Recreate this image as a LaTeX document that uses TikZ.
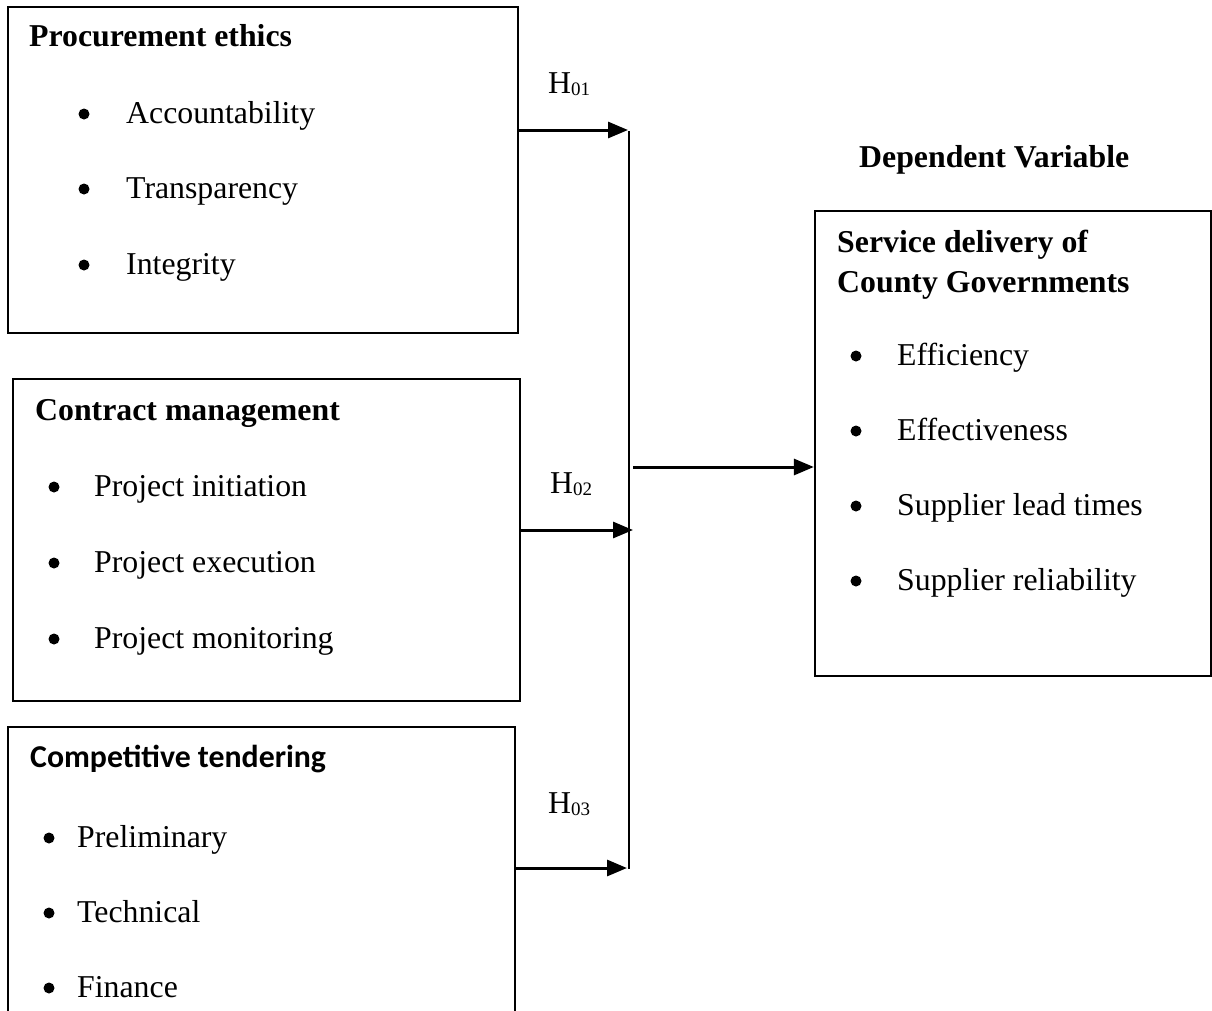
\documentclass[tikz,border=0pt]{standalone}
\usepackage{fontspec}
\setmainfont{Liberation Serif}
\newfontfamily\carlito{Carlito}
\usetikzlibrary{arrows.meta}
\newcommand{\bodysize}{\fontsize{31.8}{38}\selectfont}
\newcommand{\hsub}[1]{H\raisebox{-2pt}{\fontsize{19}{19}\selectfont #1}}
\begin{document}
\begin{tikzpicture}[x=1pt,y=-1pt,
  box/.style={draw, line width=2.3pt, inner sep=0pt},
  txt/.style={anchor=base west, inner sep=0pt, font=\bodysize},
  btxt/.style={anchor=base west, inner sep=0pt, font=\bodysize\bfseries},
  bul/.style={circle, fill, inner sep=0pt, minimum size=11pt},
  conn/.style={line width=3pt, -{Triangle[length=20pt,width=16pt]}},
  vline/.style={line width=2.3pt}]
\useasboundingbox (0,0) rectangle (1212,1010);
\clip (0,0) rectangle (1212,1010);

% boxes
\node[box, minimum width=510pt, minimum height=326pt] (pe) at (263,170) {};
\node[box, minimum width=507pt, minimum height=322pt] (cm) at (266.5,540) {};
\node[box, minimum width=507pt, minimum height=320pt] (ct) at (261.5,887) {};
\node[box, minimum width=396pt, minimum height=465pt] (sd) at (1013,443.5) {};

% box 1
\node[btxt] (pet) at (29,46.7) {Procurement ethics};
\node[bul] (pb1) at (84,114) {};
\node[txt] (pi1) at (126,123) {Accountability};
\node[bul] (pb2) at (84,189) {};
\node[txt] (pi2) at (126,198) {Transparency};
\node[bul] (pb3) at (84,265) {};
\node[txt] (pi3) at (126,274) {Integrity};

% box 2
\node[btxt] (cmt) at (35,420) {Contract management};
\node[bul] (cb1) at (54,487) {};
\node[txt] (ci1) at (94,496) {Project initiation};
\node[bul] (cb2) at (54,563) {};
\node[txt] (ci2) at (94,572) {Project execution};
\node[bul] (cb3) at (54,639) {};
\node[txt] (ci3) at (94,648) {Project monitoring};

% box 3
\node[anchor=base west, inner sep=0pt, font=\bodysize\carlito\bfseries] (ctt) at (30,767) {Competitive tendering};
\node[bul] (tb1) at (49,838) {};
\node[txt] (ti1) at (77,847) {Preliminary};
\node[bul] (tb2) at (49,913) {};
\node[txt] (ti2) at (77,922) {Technical};
\node[bul] (tb3) at (49,988) {};
\node[txt] (ti3) at (77,997) {Finance};

% right box
\node[btxt] (dv) at (859,167) {Dependent Variable};
\node[btxt] (sdt1) at (837,252) {Service delivery of};
\node[btxt] (sdt2) at (837,292) {County Governments};
\node[bul] (sb1) at (856,356) {};
\node[txt] (si1) at (897,365) {Efficiency};
\node[bul] (sb2) at (856,431) {};
\node[txt] (si2) at (897,440) {Effectiveness};
\node[bul] (sb3) at (856,506) {};
\node[txt] (si3) at (897,515) {Supplier lead times};
\node[bul] (sb4) at (856,581) {};
\node[txt] (si4) at (897,590) {Supplier reliability};

% hypothesis labels
\node[txt] (h1) at (548,93) {\hsub{01}};
\node[txt] (h2) at (550,493) {\hsub{02}};
\node[txt] (h3) at (548,813) {\hsub{03}};

% connectors
\coordinate (a1) at (628,130);
\coordinate (a2) at (633,530);
\coordinate (a3) at (627,868);
\coordinate (vtop) at (629,131);
\coordinate (vbot) at (629,869);
\coordinate (out) at (633,467);

\draw[vline] (vtop) -- (vbot);
\draw[conn] (pe.east |- a1) -- (a1);
\draw[conn] (cm.east |- a2) -- (a2);
\draw[conn] (ct.east |- a3) -- (a3);
\draw[conn] (out) -- (sd.west |- out);
\end{tikzpicture}
\end{document}
